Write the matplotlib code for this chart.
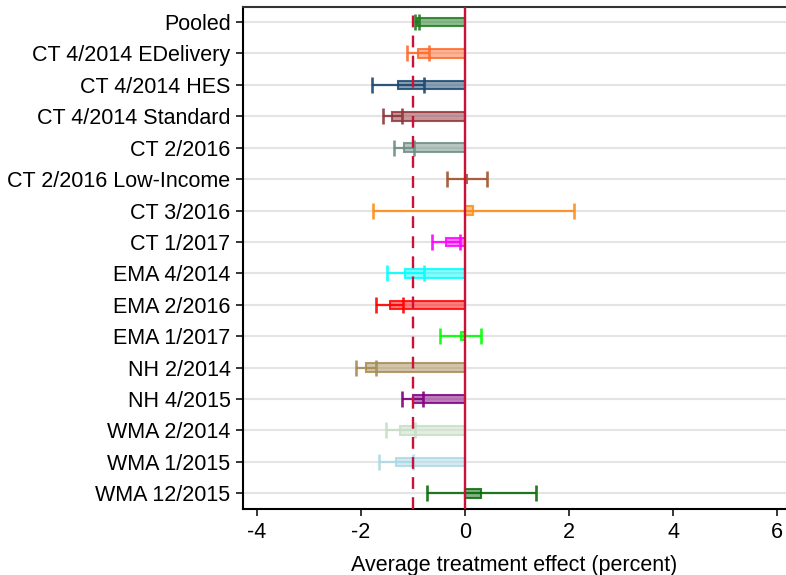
import matplotlib
matplotlib.use("Agg")
import matplotlib.pyplot as plt
from matplotlib.colors import to_rgba

plt.rcParams['font.family'] = ['Liberation Sans', 'DejaVu Sans']

# Experiment labels, top to bottom
labels = [
    "Pooled", "CT 4/2014 EDelivery", "CT 4/2014 HES", "CT 4/2014 Standard",
    "CT 2/2016", "CT 2/2016 Low-Income", "CT 3/2016", "CT 1/2017",
    "EMA 4/2014", "EMA 2/2016", "EMA 1/2017", "NH 2/2014", "NH 4/2015",
    "WMA 2/2014", "WMA 1/2015", "WMA 12/2015",
]

# Point estimates and 95% confidence bounds (percent)
estimates = [-0.92, -0.90, -1.29, -1.40, -1.18, 0.04, 0.16, -0.37,
             -1.15, -1.45, -0.08, -1.90, -1.01, -1.25, -1.33, 0.31]
ci_low = [-0.96, -1.12, -1.79, -1.58, -1.37, -0.34, -1.78, -0.64,
          -1.51, -1.71, -0.49, -2.09, -1.21, -1.53, -1.66, -0.73]
ci_high = [-0.88, -0.69, -0.79, -1.21, -0.99, 0.42, 2.10, -0.10,
           -0.79, -1.20, 0.30, -1.71, -0.81, -0.97, -1.01, 1.36]

colors = ["#1e7b1e", "#ff6a2a", "#1a476f", "#90353b", "#6e8e84", "#a0522d",
          "#ff8c1a", "#ff00ff", "#00ffff", "#ff0000", "#00ff00", "#a68c55",
          "#800080", "#c6dfc6", "#add8e6", "#0a6a0a"]

pooled_effect = -1.0
x_ticks = [-4, -2, 0, 2, 4, 6]

fig = plt.figure(figsize=(7.86, 5.75), dpi=100)
ax = fig.add_axes([243 / 786, 1 - 509 / 575, 1 - 243 / 786, (509 - 7) / 575])

rows = list(range(len(labels)))

for y in rows:
    ax.axhline(y, color="#e4e4e4", lw=1.5, zorder=0)

for y, est, lo, hi, c in zip(rows, estimates, ci_low, ci_high, colors):
    ax.barh(y, est, left=0, height=0.27,
            color=to_rgba(c, 0.5), edgecolor=to_rgba(c, 0.85),
            linewidth=1.5, zorder=2)
    ax.errorbar(est, y, xerr=[[est - lo], [hi - est]], fmt="none",
                ecolor=to_rgba(c, 0.9), elinewidth=1.6, capsize=6,
                capthick=1.9, zorder=3)

ax.axvline(0, color="#cc1038", lw=1.7, zorder=4)
ax.axvline(pooled_effect, color="#cc1038", lw=1.7, ls=(0, (5, 3.5)), zorder=4)

ax.set_xlim(-4.27, 6.17)
ax.set_ylim(len(labels) - 0.5, -0.48)
ax.set_yticks(rows)
ax.set_yticklabels(labels)
ax.set_xticks(x_ticks)
ax.set_xticklabels([str(t) for t in x_ticks])
ax.tick_params(axis="both", labelsize=15.5, length=5, width=1.1, color="black",
               pad=4)
ax.set_xlabel("Average treatment effect (percent)", fontsize=15.5, labelpad=9)

for side in ["left", "bottom"]:
    ax.spines[side].set_linewidth(1.5)
    ax.spines[side].set_color("black")
ax.spines["top"].set_linewidth(1.5)
ax.spines["top"].set_color("#333333")
ax.spines["right"].set_visible(False)

fig.savefig("out.png", dpi=100)
